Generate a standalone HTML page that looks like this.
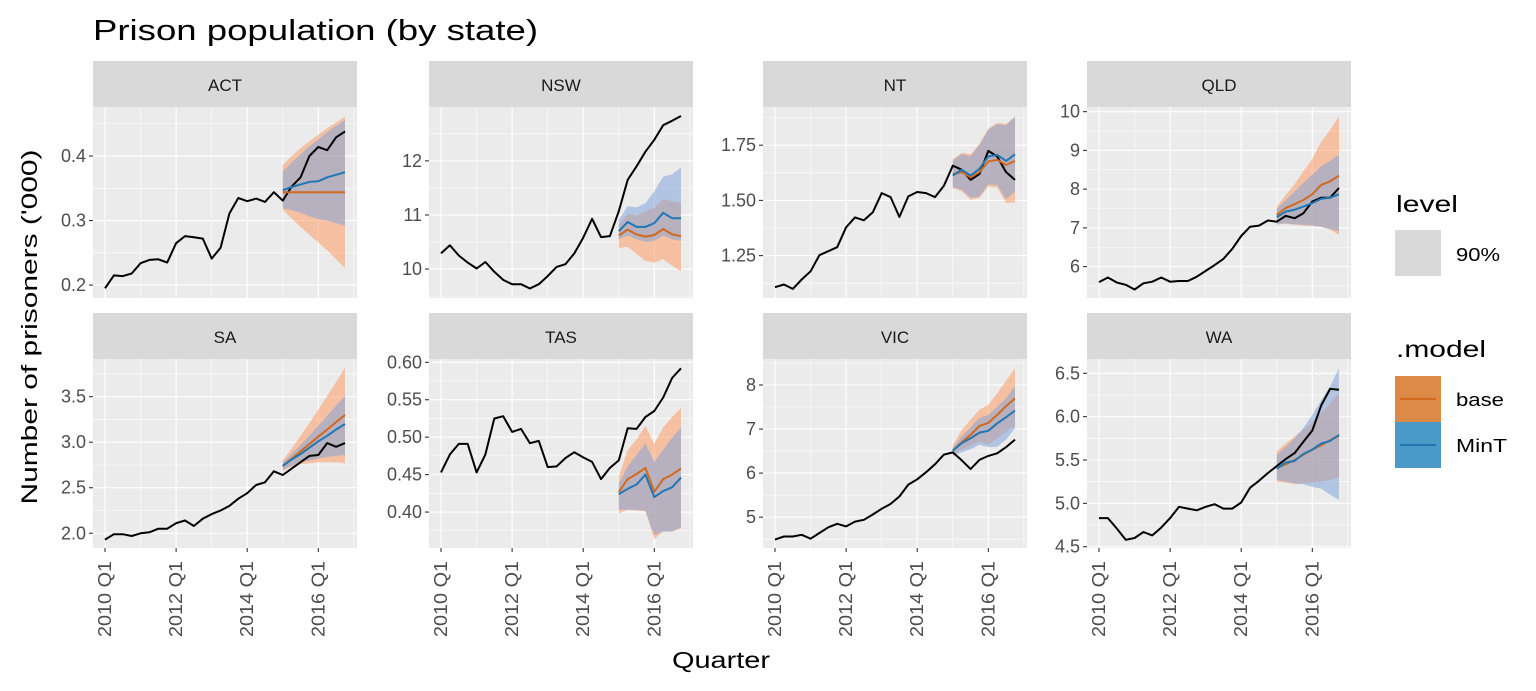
<!DOCTYPE html>
<html><head><meta charset="utf-8"><style>
html,body{margin:0;padding:0;background:#fff;}
svg{display:block;font-family:"Liberation Sans",sans-serif;}
</style></head><body>
<svg id="chart" width="1536" height="691" viewBox="0 0 1536 691" xmlns="http://www.w3.org/2000/svg">
<text x="93" y="40" font-size="29" fill="#000" textLength="445" lengthAdjust="spacingAndGlyphs">Prison population (by state)</text>
<text transform="translate(37,327) rotate(-90)" text-anchor="middle" font-size="22" fill="#000" textLength="355" lengthAdjust="spacingAndGlyphs">Number of prisoners ('000)</text>
<text x="721" y="668" text-anchor="middle" font-size="23" fill="#000" textLength="98" lengthAdjust="spacingAndGlyphs">Quarter</text>
<g id="panels"></g>
<g>
<text x="1396" y="212" font-size="23" fill="#000" textLength="62" lengthAdjust="spacingAndGlyphs">level</text>
<rect x="1395" y="230" width="46" height="46" fill="#D9D9D9"/>
<text x="1456" y="261" font-size="18" fill="#000" textLength="44" lengthAdjust="spacingAndGlyphs">90%</text>
<text x="1396" y="357" font-size="23" fill="#000" textLength="90" lengthAdjust="spacingAndGlyphs">.model</text>
<rect x="1395" y="376" width="46" height="46" fill="#DD8A47"/>
<line x1="1400" y1="399" x2="1436" y2="399" stroke="#D2691E" stroke-width="2"/>
<text x="1456" y="406" font-size="18" fill="#000" textLength="48" lengthAdjust="spacingAndGlyphs">base</text>
<rect x="1395" y="422" width="46" height="46" fill="#4A99C6"/>
<line x1="1400" y1="445" x2="1436" y2="445" stroke="#1F78B4" stroke-width="2"/>
<text x="1456" y="452" font-size="18" fill="#000" textLength="51" lengthAdjust="spacingAndGlyphs">MinT</text>
</g>
</svg>
<script>
const states = ["ACT","NSW","NT","QLD","SA","TAS","VIC","WA"];
const quarterLabels = ["2010 Q1","2012 Q1","2014 Q1","2016 Q1"];
const quarterTickIdx = [0,8,16,24];
const yMin = [0.180,9.465,1.058,5.19,1.838,0.352,4.30,4.485];
const yMax = [0.476,12.996,1.923,10.12,3.914,0.6044,8.59,6.665];
const yTicks = [[0.2,0.3,0.4],[10,11,12],[1.25,1.5,1.75],[6,7,8,9,10],[2.0,2.5,3.0,3.5],[0.40,0.45,0.50,0.55,0.60],[5,6,7,8],[4.5,5.0,5.5,6.0,6.5]];
const yTickLabels = [["0.2","0.3","0.4"],["10","11","12"],["1.25","1.50","1.75"],["6","7","8","9","10"],["2.0","2.5","3.0","3.5"],["0.40","0.45","0.50","0.55","0.60"],["5","6","7","8"],["4.5","5.0","5.5","6.0","6.5"]];
const actual = [
[0.195,0.215,0.214,0.218,0.234,0.239,0.240,0.235,0.265,0.276,0.274,0.272,0.241,0.258,0.311,0.335,0.330,0.334,0.329,0.344,0.331,0.353,0.367,0.400,0.414,0.409,0.429,0.438],
[10.29,10.44,10.25,10.12,10.01,10.13,9.95,9.80,9.72,9.72,9.64,9.72,9.87,10.04,10.09,10.29,10.58,10.93,10.59,10.61,11.07,11.65,11.90,12.17,12.39,12.66,12.74,12.83],
[1.107,1.119,1.099,1.142,1.179,1.252,1.270,1.288,1.378,1.423,1.410,1.446,1.533,1.515,1.425,1.518,1.538,1.533,1.515,1.566,1.657,1.639,1.593,1.619,1.724,1.699,1.628,1.593],
[5.60,5.72,5.59,5.53,5.41,5.57,5.61,5.72,5.61,5.63,5.63,5.74,5.89,6.04,6.20,6.46,6.79,7.03,7.06,7.19,7.16,7.31,7.25,7.38,7.68,7.78,7.78,8.03],
[1.93,1.99,1.99,1.97,2.00,2.01,2.05,2.05,2.11,2.14,2.08,2.16,2.21,2.25,2.30,2.38,2.44,2.53,2.56,2.68,2.64,2.71,2.78,2.85,2.86,2.99,2.95,2.99],
[0.453,0.477,0.491,0.491,0.453,0.477,0.525,0.528,0.507,0.511,0.492,0.495,0.460,0.461,0.472,0.480,0.473,0.467,0.444,0.459,0.469,0.512,0.511,0.527,0.535,0.553,0.579,0.592],
[4.49,4.56,4.56,4.60,4.51,4.64,4.77,4.85,4.79,4.90,4.94,5.06,5.19,5.30,5.47,5.74,5.86,6.02,6.20,6.42,6.47,6.29,6.09,6.30,6.39,6.45,6.59,6.76],
[4.83,4.83,4.71,4.58,4.60,4.67,4.63,4.72,4.83,4.96,4.94,4.92,4.96,4.99,4.94,4.94,5.01,5.18,5.26,5.35,5.43,5.51,5.58,5.71,5.84,6.13,6.32,6.31]];
const baseMean = [
[0.344,0.344,0.344,0.344,0.344,0.344,0.344,0.344],
[10.62,10.73,10.64,10.60,10.63,10.74,10.64,10.61],
[1.619,1.628,1.604,1.628,1.676,1.684,1.661,1.679],
[7.34,7.51,7.61,7.72,7.87,8.11,8.20,8.35],
[2.74,2.82,2.90,2.98,3.06,3.14,3.22,3.30],
[0.427,0.444,0.451,0.459,0.427,0.444,0.450,0.458],
[6.51,6.70,6.87,7.07,7.14,7.32,7.52,7.70],
[5.41,5.45,5.50,5.56,5.62,5.67,5.73,5.78]];
const baseLo = [
[0.317,0.303,0.290,0.278,0.266,0.254,0.240,0.226],
[10.39,10.41,10.28,10.15,10.12,10.18,10.06,9.96],
[1.556,1.541,1.503,1.511,1.563,1.560,1.488,1.491],
[7.12,7.10,7.08,7.06,7.05,7.03,6.95,6.82],
[2.68,2.73,2.76,2.77,2.78,2.78,2.78,2.77],
[0.398,0.403,0.402,0.401,0.364,0.374,0.374,0.378],
[6.42,6.53,6.62,6.72,6.64,6.79,6.94,7.07],
[5.25,5.24,5.22,5.23,5.24,5.25,5.27,5.30]];
const baseHi = [
[0.386,0.400,0.412,0.423,0.433,0.443,0.452,0.461],
[10.82,11.02,10.99,11.07,11.13,11.30,11.25,11.22],
[1.686,1.716,1.709,1.757,1.825,1.852,1.846,1.880],
[7.55,7.85,8.13,8.46,8.78,9.22,9.53,9.88],
[2.80,2.93,3.07,3.21,3.36,3.51,3.66,3.82],
[0.447,0.483,0.497,0.515,0.491,0.513,0.527,0.539],
[6.62,6.98,7.21,7.44,7.55,7.81,8.10,8.38],
[5.60,5.69,5.77,5.85,5.94,6.04,6.15,6.27]];
const mintMean = [
[0.347,0.352,0.356,0.360,0.361,0.367,0.371,0.375],
[10.70,10.87,10.78,10.78,10.85,11.04,10.94,10.94],
[1.613,1.639,1.613,1.643,1.699,1.706,1.679,1.709],
[7.28,7.42,7.47,7.55,7.64,7.75,7.78,7.87],
[2.74,2.81,2.87,2.94,3.01,3.07,3.14,3.20],
[0.424,0.431,0.437,0.450,0.420,0.428,0.433,0.446],
[6.51,6.68,6.79,6.92,6.96,7.13,7.27,7.42],
[5.40,5.47,5.49,5.57,5.62,5.69,5.72,5.79]];
const mintLo = [
[0.319,0.316,0.312,0.307,0.302,0.300,0.296,0.292],
[10.55,10.62,10.55,10.50,10.52,10.62,10.55,10.52],
[1.560,1.548,1.512,1.518,1.572,1.570,1.505,1.540],
[7.08,7.12,7.09,7.08,7.06,7.03,6.97,6.91],
[2.70,2.74,2.78,2.80,2.82,2.84,2.85,2.86],
[0.403,0.403,0.403,0.402,0.369,0.374,0.374,0.380],
[6.39,6.47,6.54,6.64,6.59,6.60,6.76,7.02],
[5.27,5.25,5.23,5.22,5.19,5.17,5.10,5.04]];
const mintHi = [
[0.376,0.390,0.403,0.415,0.426,0.437,0.447,0.456],
[10.91,11.16,11.14,11.22,11.44,11.71,11.75,11.88],
[1.679,1.710,1.700,1.750,1.820,1.845,1.840,1.880],
[7.49,7.72,7.94,8.16,8.37,8.59,8.73,8.89],
[2.78,2.87,2.97,3.07,3.18,3.29,3.40,3.51],
[0.438,0.461,0.476,0.492,0.467,0.483,0.499,0.513],
[6.57,6.83,7.04,7.25,7.32,7.51,7.70,7.97],
[5.56,5.65,5.75,5.87,6.02,6.19,6.35,6.56]];

const NS = "http://www.w3.org/2000/svg";
const colX = [93,429,763,1087];
const rowStrip = [61,313];
const rowPlotTop = [107,359];
const rowPlotBot = [298,548];
const PW = 264, nQ = 28, fcStart = 20;
const root = document.getElementById('panels');
function mk(tag, attrs, parent){
  const e = document.createElementNS(NS, tag);
  for (const k in attrs) e.setAttribute(k, attrs[k]);
  parent.appendChild(e); return e;
}
states.forEach((st, p) => {
  const r = Math.floor(p/4), c = p%4;
  const x0 = colX[c], top = rowPlotTop[r], bot = rowPlotBot[r];
  const xs = i => x0 + 12 + i*(PW-24)/(nQ-1);
  const ys = v => bot - (v - yMin[p])/(yMax[p]-yMin[p])*(bot-top);
  const g = mk('g', {}, root);
  
  
  const strip = mk('rect', {x:x0, y:rowStrip[r], width:PW, height:top-rowStrip[r], fill:'#D9D9D9'}, g);
  
  
  const st_t = mk('text', {x:x0+PW/2, y:rowStrip[r]+30, 'text-anchor':'middle', 'font-size':17, fill:'#1A1A1A'}, g);
  st_t.textContent = st;
  
  
  const bg = mk('rect', {x:x0, y:top, width:PW, height:bot-top, fill:'#EBEBEB'}, g);
  
  
  const tk = yTicks[p], step = tk[1]-tk[0];
  for (let k = -1; k < tk.length; k++) {
    const v = tk[0] + step*(k+0.5);
    if (v > yMin[p] && v < yMax[p]) mk('line', {x1:x0, x2:x0+PW, y1:ys(v), y2:ys(v), stroke:'#fff', 'stroke-width':0.55}, g);
  }
  [4,12,20,28].forEach(i => mk('line', {x1:xs(i), x2:xs(i), y1:top, y2:bot, stroke:'#fff', 'stroke-width':0.55}, g));
  tk.forEach((v, k) => {
    mk('line', {x1:x0, x2:x0+PW, y1:ys(v), y2:ys(v), stroke:'#fff', 'stroke-width':1.1}, g);
    mk('line', {x1:x0-4, x2:x0, y1:ys(v), y2:ys(v), stroke:'#333', 'stroke-width':1.1}, g);
    const t = mk('text', {x:x0-7, y:ys(v)+6, 'text-anchor':'end', 'font-size':18, fill:'#4D4D4D'}, g);
    t.textContent = yTickLabels[p][k];
    
    
  });
  quarterTickIdx.forEach((i, k) => {
    mk('line', {x1:xs(i), x2:xs(i), y1:top, y2:bot, stroke:'#fff', 'stroke-width':1.1}, g);
    if (r === 1) {
      mk('line', {x1:xs(i), x2:xs(i), y1:bot, y2:bot+4, stroke:'#333', 'stroke-width':1.1}, g);
      const t = mk('text', {transform:`translate(${xs(i)+6},${bot+13}) rotate(-90)`, 'text-anchor':'end', 'font-size':18, fill:'#4D4D4D', textLength:76, lengthAdjust:'spacingAndGlyphs'}, g);
      t.textContent = quarterLabels[k];
      
      
    }
  });
  function band(lo, hi, fill, op, name){
    let d = '';
    for (let j = 0; j < lo.length; j++) d += (j ? 'L' : 'M') + xs(fcStart+j).toFixed(1) + ',' + ys(hi[j]).toFixed(1);
    for (let j = lo.length-1; j >= 0; j--) d += 'L' + xs(fcStart+j).toFixed(1) + ',' + ys(lo[j]).toFixed(1);
    const e = mk('path', {d:d+'Z', fill:fill, 'fill-opacity':op}, g);
    
    
  }
  function line(vals, start, color, name){
    const d = vals.map((v, j) => (j ? 'L' : 'M') + xs(start+j).toFixed(1) + ',' + ys(v).toFixed(1)).join('');
    const e = mk('path', {d:d, fill:'none', stroke:color, 'stroke-width':2, 'stroke-linejoin':'round'}, g);
    
    
  }
  band(baseLo[p], baseHi[p], 'rgb(255,150,90)', 0.5, 'base-interval-band');
  band(mintLo[p], mintHi[p], 'rgb(120,160,220)', 0.5, 'mint-interval-band');
  line(actual[p], 0, '#000', 'actual-line');
  line(baseMean[p], fcStart, '#D2691E', 'base-forecast-line');
  line(mintMean[p], fcStart, '#1F78B4', 'mint-forecast-line');
});
</script>
</body></html>
